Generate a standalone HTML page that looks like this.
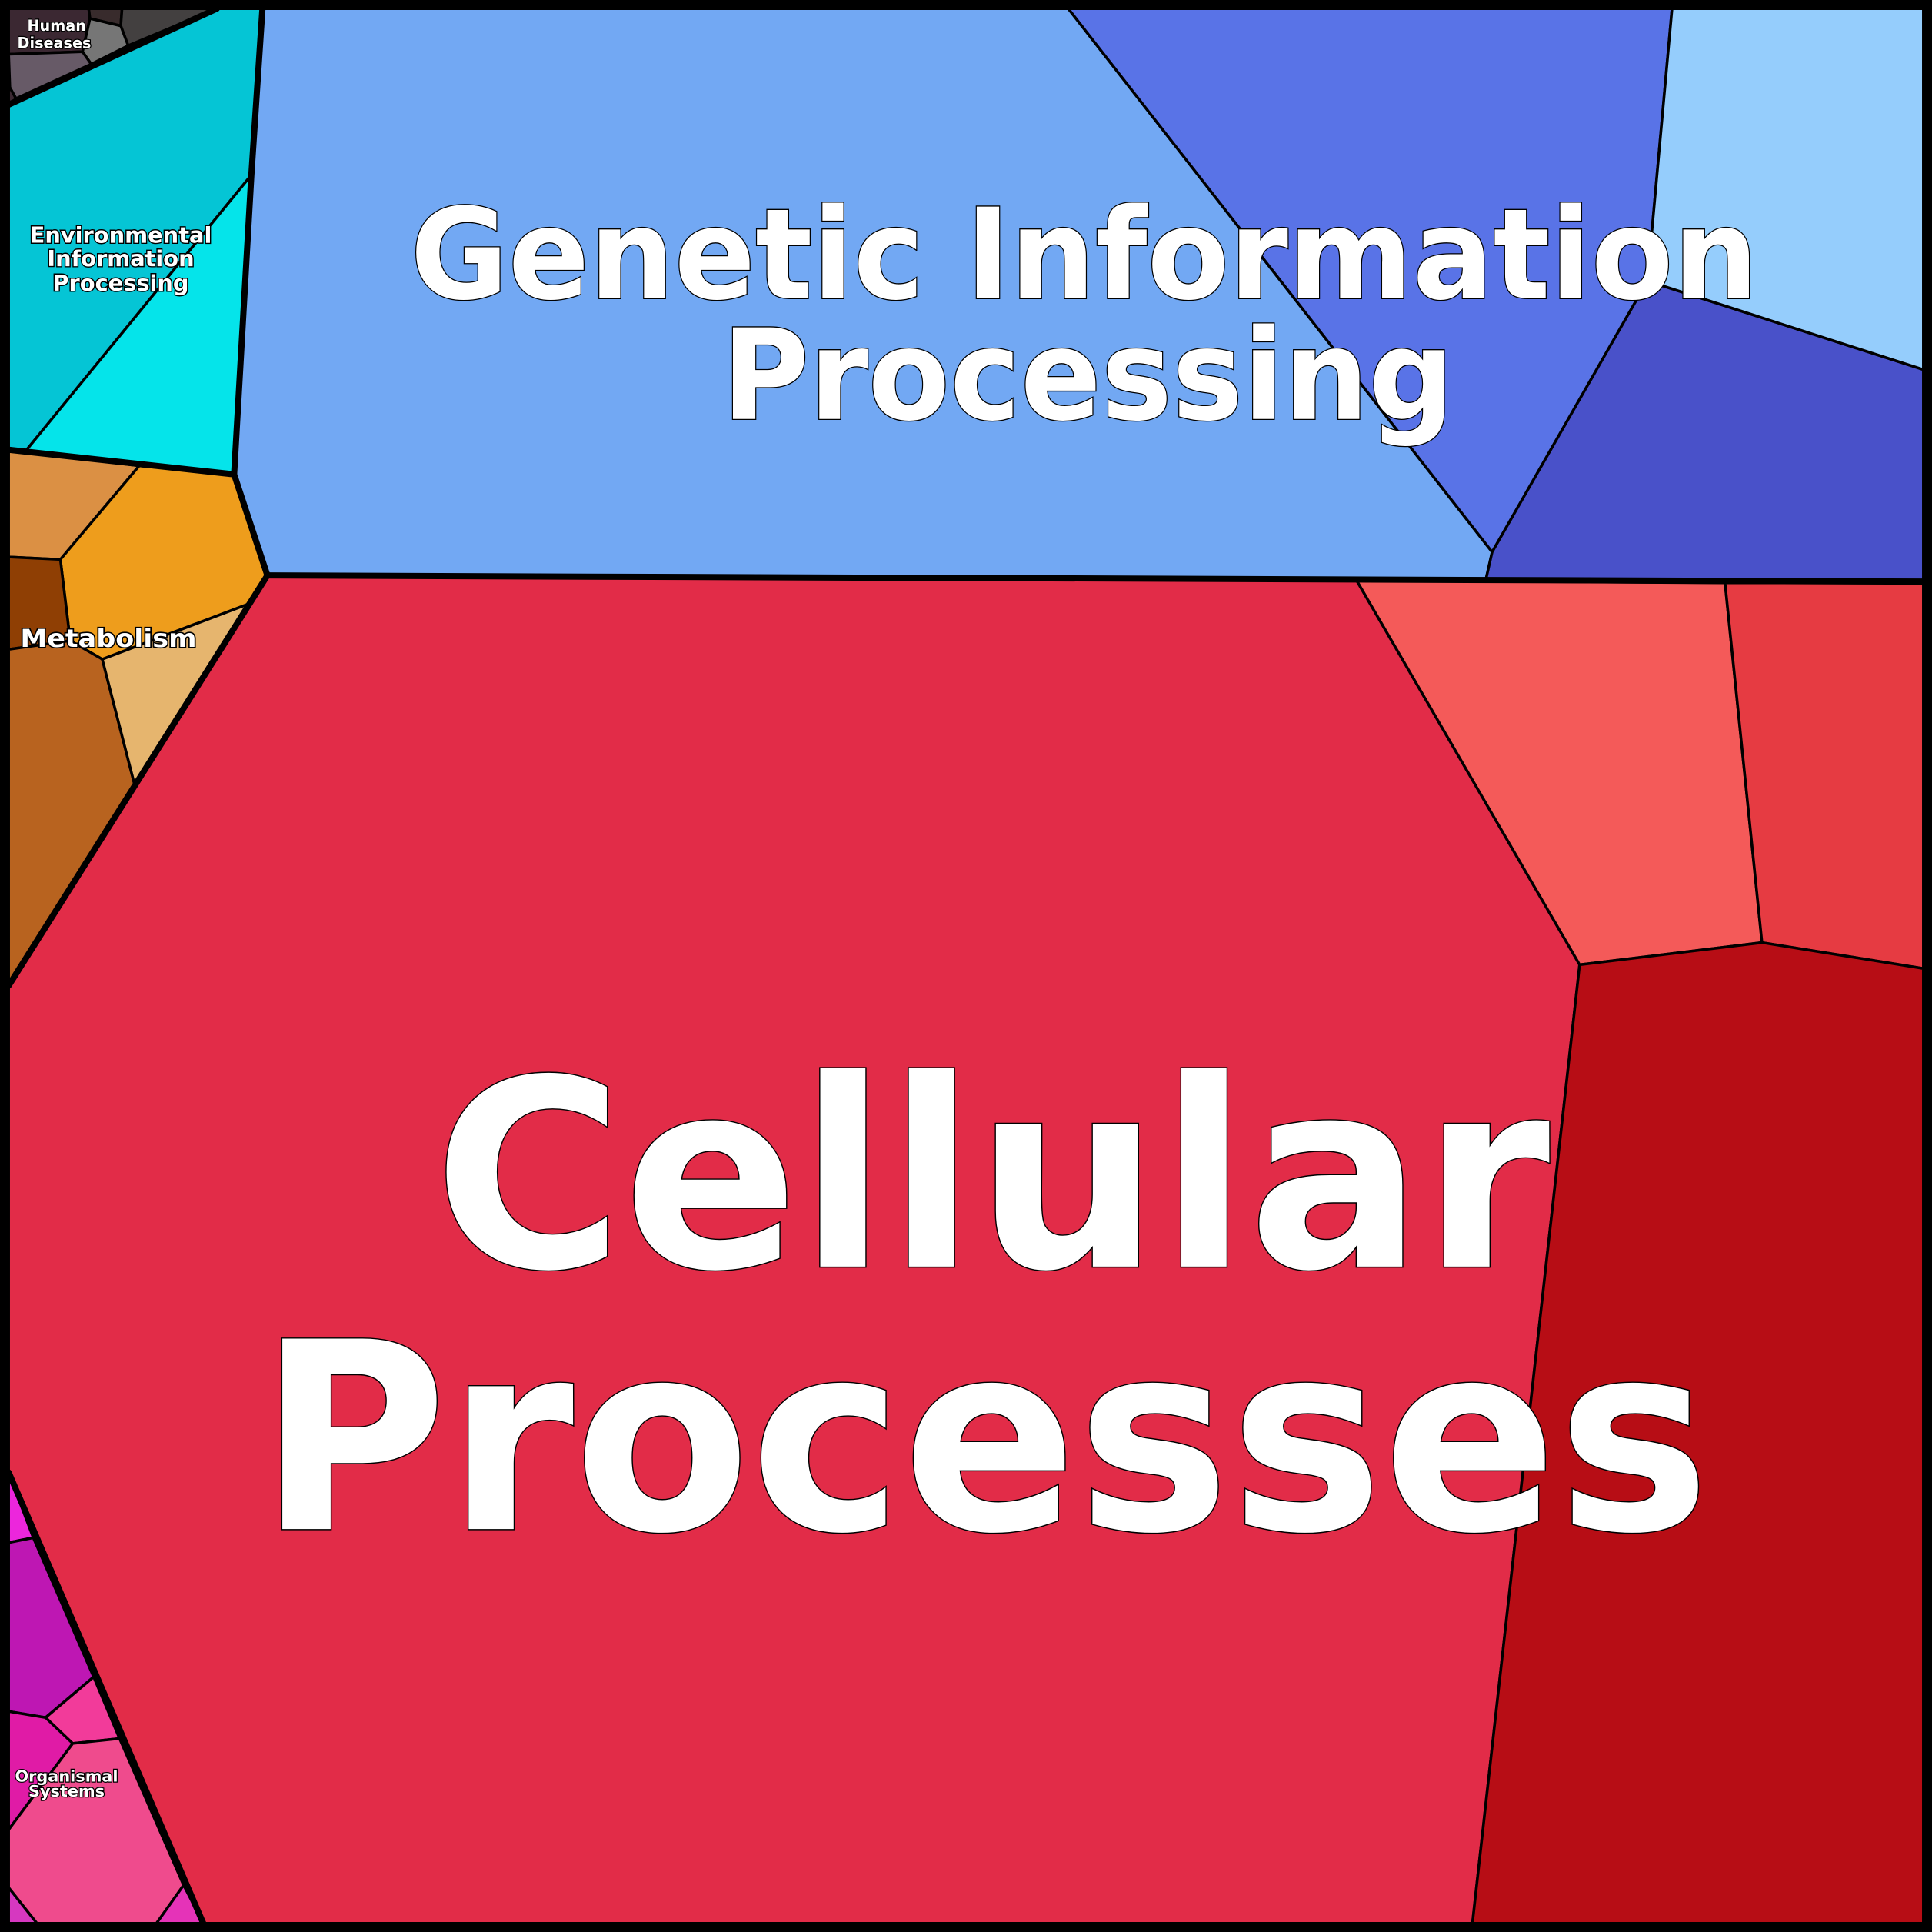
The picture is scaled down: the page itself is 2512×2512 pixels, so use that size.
<!DOCTYPE html>
<html><head><meta charset="utf-8"><style>
html,body{margin:0;padding:0;background:#000;}
svg{display:block;}
text{font-family:"DejaVu Sans","Liberation Sans",sans-serif;font-weight:bold;fill:#fff;stroke:#000;paint-order:stroke;text-anchor:middle;}
</style></head><body>
<svg width="2512" height="2512" viewBox="0 0 1568 1568" xmlns="http://www.w3.org/2000/svg">
<rect x="0" y="0" width="1568" height="1568" fill="#000"/>
<g stroke="#000" stroke-width="2.2" stroke-linejoin="round">
<polygon fill="#3b2832" points="7,7 72,7 73,15 67,42 7,44"/>
<polygon fill="#382b2c" points="72,7 99,7 98,21 73,15"/>
<polygon fill="#434040" points="99,7 176,7 104,37 98,21"/>
<polygon fill="#767676" points="73,15 98,21 104,37 74,52 67,42"/>
<polygon fill="#675a67" points="7,44 67,42 74,52 13,80 8,71"/>
<polygon fill="#3b2832" points="7,71 8,71 13,80 7,85"/>
<polygon fill="#05c5d5" points="7,85 176,7 213,7 204,142 20,367 7,365"/>
<polygon fill="#05e4ea" points="204,142 190,385 20,367"/>
<polygon fill="#db9044" points="7,365 113,378 49,454 7,452"/>
<polygon fill="#ee9d1c" points="113,378 190,385 217,467 202,490 83,535 57,520 49,454"/>
<polygon fill="#8f3f04" points="7,452 49,454 57,520 7,527"/>
<polygon fill="#b8631f" points="7,527 57,520 83,535 109,636 7,800"/>
<polygon fill="#e6b56e" points="83,535 202,490 109,636"/>
<polygon fill="#72a8f3" points="213,7 867,7 1211,448 1206,470 217,467 190,385"/>
<polygon fill="#5973e7" points="867,7 1357,7 1337,228 1211,448"/>
<polygon fill="#4951c9" points="1337,228 1561,300 1561,472 1206,470 1211,448"/>
<polygon fill="#95cdfc" points="1357,7 1561,7 1561,300 1337,228"/>
<polygon fill="#e22c48" points="217,467 1101,471 1282,783 1195,1561 165,1561 7,1195 7,800"/>
<polygon fill="#f45a59" points="1101,471 1400,473 1430,765 1282,783"/>
<polygon fill="#e63b42" points="1400,473 1561,473 1561,786 1430,765"/>
<polygon fill="#b70d15" points="1282,783 1430,765 1561,786 1561,1561 1195,1561"/>
<polygon fill="#ec26dc" points="7,1195 27,1248 7,1252"/>
<polygon fill="#be17b3" points="7,1252 27,1248 76,1361 37,1394 7,1389"/>
<polygon fill="#f23b9a" points="76,1361 97,1411 59,1415 37,1394"/>
<polygon fill="#e01ba6" points="7,1389 37,1394 59,1415 7,1485"/>
<polygon fill="#ef4b8d" points="59,1415 97,1411 149,1530 127,1561 30,1561 7,1532 7,1485"/>
<polygon fill="#d638c0" points="7,1532 30,1561 7,1561"/>
<polygon fill="#e533b8" points="149,1530 165,1561 127,1561"/>
</g>
<g stroke="#000" stroke-width="5" fill="none" stroke-linejoin="round" stroke-linecap="round">
<polyline points="176,7 7,85"/>
<polyline points="213,7 204,142 190,385 7,365"/>
<polyline points="190,385 217,467 7,800"/>
<polyline points="217,467 1561,472"/>
<polyline points="7,1195 165,1561"/>
<rect x="4" y="4" width="1560" height="1560" stroke-width="7"/>
</g>
<text x="880" y="242" font-size="102" stroke-width="1.6" textLength="1094" lengthAdjust="spacingAndGlyphs">Genetic Information</text>
<text x="883" y="340" font-size="102" stroke-width="1.6" textLength="594" lengthAdjust="spacingAndGlyphs">Processing</text>
<text x="805" y="1028" font-size="212" stroke-width="1.8" textLength="906" lengthAdjust="spacingAndGlyphs">Cellular</text>
<text x="799" y="1241" font-size="212" stroke-width="1.8" textLength="1178" lengthAdjust="spacingAndGlyphs">Processes</text>
<text x="46" y="25" font-size="12" stroke-width="1.5">Human</text>
<text x="44" y="39" font-size="12" stroke-width="1.5">Diseases</text>
<text x="98" y="197" font-size="18" stroke-width="1.8">Environmental</text>
<text x="98" y="216" font-size="18" stroke-width="1.8">Information</text>
<text x="98" y="236" font-size="18" stroke-width="1.8">Processing</text>
<text x="88" y="525" font-size="20" stroke-width="2" textLength="143" lengthAdjust="spacingAndGlyphs">Metabolism</text>
<text x="54" y="1446" font-size="13" stroke-width="1.5">Organismal</text>
<text x="54" y="1458" font-size="13" stroke-width="1.5">Systems</text>
</svg>
</body></html>
